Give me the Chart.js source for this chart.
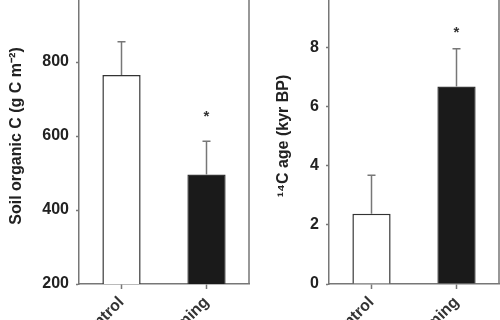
<!DOCTYPE html>
<html>
<head>
<meta charset="utf-8">
<script src="https://cdn.jsdelivr.net/npm/chart.js@4.4.1/dist/chart.umd.min.js"></script>
<style>
  html, body { margin: 0; padding: 0; background: #fff; overflow: hidden; }
  body { width: 500px; height: 320px; position: relative; }
  .panel { position: absolute; top: -40px; width: 250px; height: 400px; }
  #left { left: 0; }
  #right { left: 250px; }
</style>
</head>
<body>
<div class="panel" id="left"><canvas id="soilChart"></canvas></div>
<div class="panel" id="right"><canvas id="ageChart"></canvas></div>
<script>
const categories = ["Control", "Warming"];

const soilC = [765, 496];
const soilCErr = [90, 90];
const soilSig = [false, true];

const ageKyr = [2.37, 6.67];
const ageKyrErr = [1.3, 1.28];
const ageSig = [false, true];

const FONT = "'Liberation Sans', Arial, sans-serif";
const AXIS = "#777";

// upper error bars, significance stars and the frame on the right
const errorBars = {
  id: "errorBars",
  afterDatasetsDraw(chart, args, opts) {
    const { ctx, chartArea } = chart;
    const y = chart.scales.y;
    const values = chart.data.datasets[0].data;
    const meta = chart.getDatasetMeta(0);
    ctx.save();
    ctx.strokeStyle = AXIS;
    ctx.lineWidth = 1.5;
    meta.data.forEach((bar, i) => {
      const top = y.getPixelForValue(values[i] + opts.errors[i]);
      ctx.beginPath();
      ctx.moveTo(bar.x, bar.y);
      ctx.lineTo(bar.x, top);
      ctx.moveTo(bar.x - 4, top);
      ctx.lineTo(bar.x + 4, top);
      ctx.stroke();
      if (opts.sig[i]) {
        ctx.fillStyle = "#333";
        ctx.font = "bold 15px " + FONT;
        ctx.textAlign = "center";
        ctx.textBaseline = "middle";
        ctx.fillText("*", bar.x, top - opts.starGap);
      }
    });
    ctx.beginPath();
    ctx.moveTo(chartArea.left, chartArea.top);
    ctx.lineTo(chartArea.right, chartArea.top);
    ctx.lineTo(chartArea.right, chartArea.bottom);
    ctx.stroke();
    ctx.restore();
  }
};

const makeChart = (id, values, errors, sig, yOpts) => {
  return new Chart(document.getElementById(id), {
    type: "bar",
    data: {
      labels: categories,
      datasets: [{
        data: values,
        backgroundColor: ["#ffffff", "#1a1a1a"],
        borderColor: "#333",
        borderWidth: 1.5,
        barPercentage: 0.9,
        categoryPercentage: 0.5,
      }],
    },
    options: {
      animation: false,
      responsive: true,
      maintainAspectRatio: false,
      layout: { padding: { top: 28, right: 1, left: 0, bottom: 0 } },
      plugins: {
        legend: { display: false },
        tooltip: { enabled: false },
        errorBars: { errors: errors, sig: sig, starGap: yOpts.starGap },
      },
      scales: {
        x: {
          ticks: {
            minRotation: 45,
            maxRotation: 45,
            color: "#333",
            padding: 4,
            font: { family: FONT, size: 16, weight: "bold" },
          },
          grid: { offset: false, drawOnChartArea: false, tickLength: 5, tickColor: AXIS, tickWidth: 1.5 },
          border: { color: AXIS, width: 1.5 },
          afterFit: (s) => { s.height = 76; },
        },
        y: {
          min: yOpts.min,
          max: yOpts.max,
          ticks: {
            stepSize: yOpts.step,
            color: "#222",
            padding: 7,
            font: { family: FONT, size: 16, weight: "bold" },
          },
          grid: { drawOnChartArea: false, tickLength: 3, tickColor: AXIS, tickWidth: 1.5 },
          border: { color: AXIS, width: 1.5 },
          title: {
            display: true,
            text: yOpts.title,
            color: "#222",
            padding: { top: yOpts.titlePad, bottom: 0 },
            font: { family: FONT, size: 16, weight: "bold" },
          },
          afterFit: (s) => { s.width = 79; },
        },
      },
    },
    plugins: [errorBars],
  });
};

makeChart("soilChart", soilC, soilCErr, soilSig, {
  min: 200, max: 1000, step: 200,
  title: "Soil organic C (g C m\u207B\u00B2)",
  titlePad: 7, starGap: 24,
});

makeChart("ageChart", ageKyr, ageKyrErr, ageSig, {
  min: 0, max: 10, step: 2,
  title: "\u00B9\u2074C age (kyr BP)",
  titlePad: 24, starGap: 16,
});
</script>
</body>
</html>
